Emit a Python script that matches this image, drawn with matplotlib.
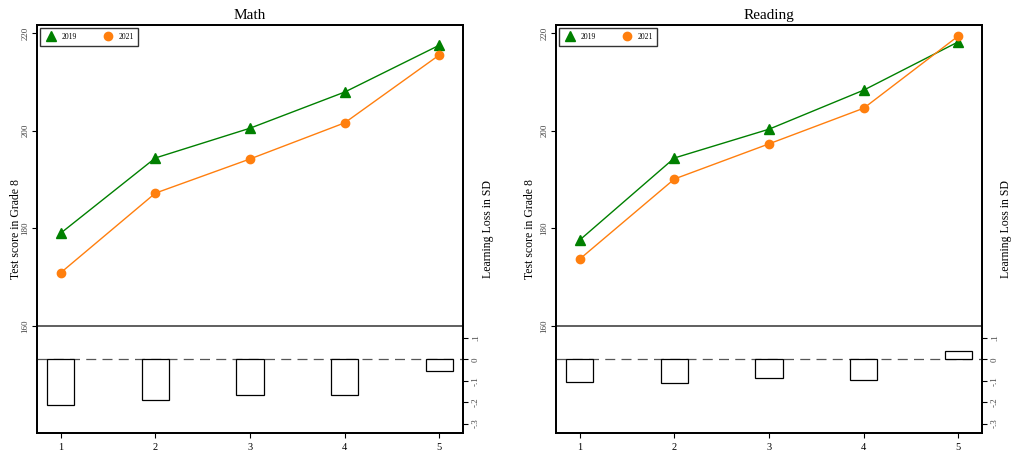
import matplotlib
matplotlib.use("Agg")
import matplotlib.pyplot as plt
import numpy as np

plt.rcParams["font.family"] = ["Liberation Serif", "DejaVu Serif"]

grades = [1, 2, 3, 4, 5]
years = ["2019", "2021"]

math_2019 = [179.0, 194.4, 200.5, 207.9, 217.5]
math_2021 = [170.9, 187.2, 194.2, 201.6, 215.5]
math_loss = [-0.214, -0.188, -0.166, -0.166, -0.053]

read_2019 = [177.6, 194.4, 200.3, 208.3, 218.2]
read_2021 = [173.7, 190.1, 197.3, 204.6, 219.4]
read_loss = [-0.104, -0.112, -0.085, -0.096, 0.040]

score_ticks = [160, 180, 200, 220]
sd_ticks = [0.1, 0, -0.1, -0.2, -0.3]
sd_labels = [".1", "0", "-.1", "-.2", "-.3"]

green = "#008000"
orange = "#ff7f0e"

fig = plt.figure(figsize=(10.11, 4.54), dpi=100)


def panel(left, title, s19, s21, loss, lx, rx):
    ax = fig.add_axes([left, 0.0463, 0.4214, 0.8987])
    ax.plot(grades, s19, color=green, lw=1, marker="^", ms=6.5, label=years[0])
    ax.plot(grades, s21, color=orange, lw=1, marker="o", ms=6, label=years[1])
    ax.axhline(160, color="#444444", lw=1.2)
    ax.set_xlim(0.75, 5.25)
    ax.set_ylim(138.09, 221.64)
    ax.set_xticks(grades)
    ax.set_yticks(score_ticks)
    ax.set_yticklabels([str(t) for t in score_ticks], rotation=90, va="center",
                       fontsize=6.5, color="#444444")
    ax.tick_params(axis="x", labelsize=7.5)
    ax.tick_params(axis="y", pad=2)
    ax.set_ylabel("Test score in Grade 8", fontsize=8.5)
    ax.yaxis.set_label_coords(lx, 0.5)
    ax.set_title(title, fontsize=11, pad=4)
    for s in ax.spines.values():
        s.set_linewidth(1.3)

    h1 = plt.Line2D([], [], color=green, marker="^", ls="none", ms=7)
    h2 = plt.Line2D([], [], color=orange, marker="o", ls="none", ms=6)
    leg = ax.legend([h1, h2], years, loc="upper left", ncol=2, fontsize=5.5,
                    frameon=True, fancybox=False, edgecolor="black",
                    borderaxespad=0.45, columnspacing=3.2, handletextpad=0.6,
                    handlelength=1.6, borderpad=0.6)
    leg.get_frame().set_linewidth(1.0)

    ax2 = ax.twinx()
    ax2.bar(grades, loss, width=0.29, color="white", edgecolor="black", lw=0.9)
    ax2.axhline(0, color="#555555", lw=0.9, ls=(0, (8, 5)), zorder=0)
    ax2.set_ylim(-0.344, 1.562)
    ax2.set_yticks(sd_ticks)
    ax2.set_yticklabels(sd_labels, rotation=90, va="center", fontsize=6.5,
                        color="#444444")
    ax2.tick_params(axis="y", pad=3)
    ax2.set_ylabel("Learning Loss in SD", fontsize=8.5)
    ax2.yaxis.set_label_coords(rx, 0.5)
    for s in ax2.spines.values():
        s.set_linewidth(1.3)
    return ax


panel(0.0366, "Math", math_2019, math_2021, math_loss, -0.036, 1.045)
panel(0.5500, "Reading", read_2019, read_2021, read_loss, -0.048, 1.042)

fig.savefig("out.png", dpi=100)
